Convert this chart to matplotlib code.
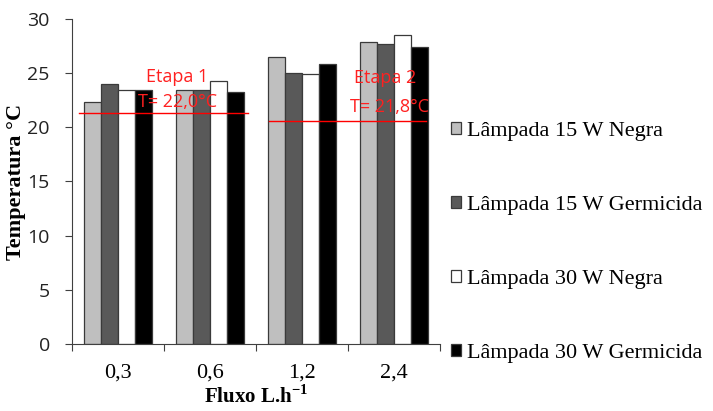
import numpy as np
import matplotlib.pyplot as plt

# data
fluxo = ["0,3", "0,6", "1,2", "2,4"]
neg15 = [22.3, 23.4, 26.5, 27.9]
germ15 = [24.0, 23.4, 25.05, 27.7]
neg30 = [23.4, 24.3, 24.9, 28.5]
germ30 = [23.4, 23.3, 25.8, 27.4]
series_names = ["Lâmpada 15 W Negra", "Lâmpada 15 W Germicida",
                "Lâmpada 30 W Negra", "Lâmpada 30 W Germicida"]
etapa1_T = 21.3
etapa2_T = 20.6

serif = ["Liberation Serif", "DejaVu Serif"]
sans = ["Open Sans", "Liberation Sans", "DejaVu Sans"]

plt.rcParams["mathtext.fontset"] = "custom"
plt.rcParams["mathtext.rm"] = "Liberation Serif"
plt.rcParams["mathtext.bf"] = "Liberation Serif:bold"

fig = plt.figure(figsize=(7.13, 4.11), dpi=100)
ax = fig.add_axes([0.101, 0.163, 0.516, 0.791])

x = np.arange(len(fluxo))
w = 0.183
colors = ["#bfbfbf", "#595959", "#ffffff", "#000000"]
all_series = [neg15, germ15, neg30, germ30]
for i, vals in enumerate(all_series):
    ax.bar(x + (i - 1.5) * w, vals, w, color=colors[i], edgecolor="#3a3a3a",
           linewidth=0.9, label=series_names[i], zorder=2)

# stage reference lines and labels
ax.plot([-0.42, 1.41], [etapa1_T, etapa1_T], color="red", lw=1, zorder=3)
ax.plot([1.64, 3.35], [etapa2_T, etapa2_T], color="red", lw=1, zorder=3)
ax.text(0.64, 24.6, "Etapa 1", color="#ff2020", fontsize=13, ha="center",
        va="center", family=sans, zorder=4)
ax.text(0.65, 22.35, "T= 22,0°C", color="#ff2020", fontsize=13, ha="center",
        va="center", family=sans, zorder=4)
ax.text(2.9, 24.55, "Etapa 2", color="#ff2020", fontsize=13, ha="center",
        va="center", family=sans, zorder=4)
ax.text(2.95, 21.9, "T= 21,8°C", color="#ff2020", fontsize=13, ha="center",
        va="center", family=sans, zorder=4)

ax.set_xlim(-0.5, 3.5)
ax.set_ylim(0, 30)
ax.set_yticks(range(0, 31, 5))
ax.set_xticks([-0.5, 0.5, 1.5, 2.5, 3.5], minor=False)
ax.set_xticklabels([])
ax.set_xticks(x, minor=True)
ax.set_xticklabels(fluxo, minor=True, family=serif, fontsize=16)
ax.tick_params(axis="x", which="minor", length=0, pad=14)
ax.tick_params(axis="x", which="major", length=5, direction="out",
               color="#404040")
ax.tick_params(axis="y", length=5, direction="out", color="#404040",
               labelsize=14, pad=11)
for lab in ax.get_yticklabels():
    lab.set_family(sans)
    lab.set_color("#222222")

ax.spines["top"].set_visible(False)
ax.spines["right"].set_visible(False)
ax.spines["left"].set_color("#404040")
ax.spines["bottom"].set_color("#404040")

ax.set_ylabel("Temperatura °C", family=serif, fontsize=16,
              fontweight="bold", labelpad=1)
ax.set_xlabel("Fluxo L.h$^{\\mathbf{-1}}$", family=serif, fontsize=15,
              fontweight="bold", labelpad=2)

leg = ax.legend(loc="upper left", bbox_to_anchor=(1.005, 0.71), frameon=False,
                prop={"family": serif, "size": 16}, handlelength=0.45,
                handleheight=0.45, handletextpad=0.3, labelspacing=2.47,
                borderaxespad=0)

fig.savefig("out.png", dpi=100)
